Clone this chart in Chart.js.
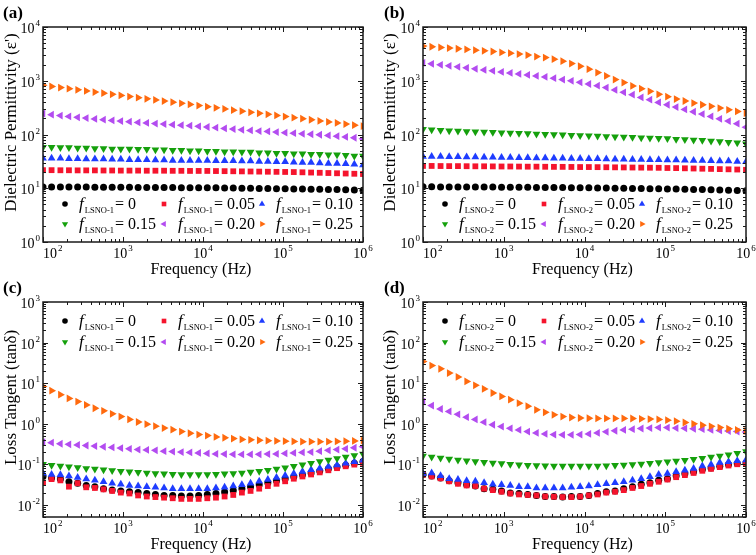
<!DOCTYPE html>
<html>
<head>
<meta charset="utf-8">
<script src="https://cdn.jsdelivr.net/npm/chart.js@4.4.1/dist/chart.umd.min.js"></script>
<style>
  body { margin: 0; background: #fff; }
  #wrap { position: relative; width: 756px; height: 555px; overflow: hidden; }
  #wrap canvas { position: absolute; }
</style>
</head>
<body>
<div id="wrap">
  <canvas id="chartA" width="378" height="278" style="left:0;top:0"></canvas>
  <canvas id="chartB" width="378" height="278" style="left:378px;top:0"></canvas>
  <canvas id="chartC" width="378" height="277" style="left:0;top:278px"></canvas>
  <canvas id="chartD" width="378" height="277" style="left:378px;top:278px"></canvas>
</div>
<script>
'use strict';

// measured frequencies (Hz), same for every sample
const freq = [100, 128, 165, 211, 271, 347, 445, 571, 732, 939,
  1205, 1545, 1982, 2542, 3261, 4182, 5365, 6881, 8826, 11320,
  14520, 18620, 23890, 30640, 39300, 50410, 64660, 82930, 106400, 136400,
  175000, 224400, 287900, 369200, 473600, 607500, 779200, 1000000];

const fractions = ['0', '0.05', '0.10', '0.15', '0.20', '0.25'];

// tick labels are powers of ten
const xTickExp = [2, 3, 4, 5, 6];
const epsTickExp = [0, 1, 2, 3, 4];
const tanTickExp = [-2, -1, 0, 1, 2, 3];

// (a) dielectric permittivity, LSNO-1
const eps1_f000 = [10.6, 10.6, 10.5, 10.5, 10.5, 10.5, 10.4, 10.4, 10.4, 10.4, 10.4, 10.3, 10.3, 10.3, 10.3, 10.3, 10.2, 10.2, 10.2, 10.2, 10.2, 10.1, 10.1, 10.0, 10.0, 9.9, 9.9, 9.8, 9.8, 9.7, 9.7, 9.6, 9.6, 9.5, 9.5, 9.4, 9.3, 9.2];
const eps1_f005 = [21.7, 21.7, 21.6, 21.6, 21.5, 21.5, 21.5, 21.4, 21.4, 21.3, 21.3, 21.3, 21.2, 21.2, 21.2, 21.1, 21.1, 21.0, 21.0, 21.0, 20.9, 20.8, 20.7, 20.6, 20.5, 20.4, 20.3, 20.2, 20.1, 20.0, 19.8, 19.6, 19.4, 19.2, 19.0, 18.8, 18.6, 18.4];
const eps1_f010 = [36, 36, 36, 35.5, 35.5, 35, 35, 35, 34.5, 34.5, 34, 34, 34, 33.5, 33.5, 33, 33, 33, 33, 33, 32.5, 32.5, 32.5, 32, 32, 31.5, 31.5, 31, 31, 30.5, 30, 30, 29.5, 29, 29, 28.5, 28, 27];
const eps1_f015 = [58, 58, 57, 57, 56, 56, 55, 55, 54, 54, 54, 53, 53, 52, 52, 51, 51, 50, 50, 49, 49, 48, 48, 47, 47, 46, 46, 45, 45, 44, 44, 43, 43, 42, 42, 41, 40, 40];
const eps1_f020 = [244, 234, 225, 217, 209, 202, 195, 189, 183, 178, 173, 168, 164, 160, 156, 152, 149, 146, 142, 138, 134, 130, 126, 122, 119, 116, 114, 111, 108, 106, 103, 101, 99, 96, 93, 90, 87, 83];
const eps1_f025 = [824, 785, 748, 713, 679, 647, 617, 587, 560, 533, 508, 484, 461, 440, 419, 399, 380, 362, 345, 329, 313, 299, 284, 272, 259, 248, 237, 226, 216, 206, 197, 188, 179, 171, 164, 156, 149, 143];

// (b) dielectric permittivity, LSNO-2
const eps2_f000 = [10.7, 10.7, 10.6, 10.6, 10.6, 10.5, 10.5, 10.5, 10.5, 10.4, 10.4, 10.4, 10.4, 10.3, 10.3, 10.3, 10.3, 10.2, 10.2, 10.2, 10.1, 10.1, 10.0, 10.0, 9.9, 9.9, 9.8, 9.8, 9.7, 9.7, 9.6, 9.5, 9.5, 9.4, 9.3, 9.2, 9.1, 9.0];
const eps2_f005 = [26.0, 26.0, 25.9, 25.8, 25.8, 25.7, 25.6, 25.6, 25.5, 25.4, 25.4, 25.3, 25.2, 25.2, 25.1, 25.0, 25.0, 24.9, 24.8, 24.8, 24.7, 24.6, 24.5, 24.4, 24.3, 24.2, 24.1, 24.0, 23.8, 23.7, 23.5, 23.3, 23.1, 22.9, 22.7, 22.5, 22.3, 22.0];
const eps2_f010 = [39, 39, 38.8, 38.6, 38.4, 38.2, 38, 37.8, 37.6, 37.4, 37.2, 37, 36.8, 36.6, 36.4, 36.2, 36, 35.8, 35.6, 35.4, 35.2, 35, 34.8, 34.6, 34.4, 34.2, 34, 33.8, 33.6, 33.4, 33.2, 33, 32.8, 32.6, 32.3, 32, 31.6, 31];
const eps2_f015 = [125, 122, 120, 118, 116, 114, 113, 111, 110, 108, 107, 105, 104, 102, 101, 100, 99, 97, 96, 95, 94, 92, 91, 90, 89, 87, 86, 85, 84, 82, 81, 79, 78, 76, 74, 72, 70, 67];
const eps2_f020 = [2150, 2065, 1980, 1895, 1815, 1740, 1665, 1590, 1530, 1460, 1400, 1340, 1285, 1230, 1180, 1115, 1050, 995, 935, 870, 810, 745, 675, 610, 550, 490, 445, 395, 358, 324, 293, 265, 240, 217, 196, 178, 159, 137];
const eps2_f025 = [4415, 4290, 4170, 4050, 3935, 3820, 3710, 3600, 3500, 3360, 3265, 3130, 3000, 2820, 2700, 2520, 2310, 2090, 1860, 1640, 1420, 1230, 1050, 925, 800, 712, 635, 560, 506, 457, 420, 385, 358, 334, 310, 288, 269, 250];

// (c) loss tangent, LSNO-1
const tan1_f000 = [0.050, 0.046, 0.043, 0.037, 0.034, 0.030, 0.028, 0.025, 0.023, 0.022, 0.021, 0.020, 0.019, 0.018, 0.017, 0.017, 0.0165, 0.0165, 0.017, 0.018, 0.019, 0.0207, 0.0224, 0.025, 0.028, 0.031, 0.035, 0.039, 0.044, 0.049, 0.055, 0.061, 0.068, 0.077, 0.086, 0.095, 0.106, 0.117];
const tan1_f005 = [0.035, 0.043, 0.040, 0.028, 0.034, 0.027, 0.026, 0.024, 0.022, 0.020, 0.019, 0.017, 0.016, 0.0155, 0.015, 0.0145, 0.014, 0.014, 0.014, 0.0145, 0.015, 0.016, 0.0175, 0.020, 0.022, 0.025, 0.029, 0.033, 0.038, 0.044, 0.050, 0.056, 0.063, 0.071, 0.080, 0.089, 0.098, 0.108];
const tan1_f010 = [0.060, 0.056, 0.055, 0.051, 0.047, 0.043, 0.040, 0.037, 0.034, 0.032, 0.030, 0.029, 0.028, 0.027, 0.026, 0.025, 0.025, 0.025, 0.025, 0.025, 0.026, 0.027, 0.029, 0.031, 0.034, 0.038, 0.042, 0.047, 0.053, 0.059, 0.066, 0.073, 0.080, 0.088, 0.096, 0.105, 0.115, 0.126];
const tan1_f015 = [0.100, 0.095, 0.091, 0.087, 0.083, 0.079, 0.076, 0.073, 0.070, 0.067, 0.065, 0.063, 0.061, 0.059, 0.058, 0.057, 0.056, 0.056, 0.056, 0.056, 0.057, 0.058, 0.059, 0.061, 0.064, 0.067, 0.071, 0.076, 0.082, 0.089, 0.097, 0.106, 0.116, 0.127, 0.139, 0.151, 0.165, 0.180];
const tan1_f020 = [0.35, 0.34, 0.32, 0.31, 0.30, 0.29, 0.28, 0.27, 0.26, 0.25, 0.24, 0.23, 0.225, 0.22, 0.21, 0.205, 0.20, 0.195, 0.19, 0.185, 0.18, 0.178, 0.176, 0.175, 0.175, 0.176, 0.178, 0.18, 0.185, 0.19, 0.195, 0.20, 0.21, 0.22, 0.23, 0.24, 0.255, 0.27];
const tan1_f025 = [8.3, 6.5, 5.2, 4.2, 3.5, 2.9, 2.4, 2.07, 1.75, 1.5, 1.27, 1.1, 0.97, 0.87, 0.78, 0.71, 0.64, 0.58, 0.54, 0.51, 0.47, 0.45, 0.43, 0.41, 0.40, 0.39, 0.38, 0.375, 0.37, 0.365, 0.36, 0.36, 0.36, 0.36, 0.365, 0.37, 0.375, 0.38];

// (d) loss tangent, LSNO-2
const tan2_f000 = [0.056, 0.051, 0.046, 0.039, 0.035, 0.031, 0.029, 0.025, 0.024, 0.022, 0.0196, 0.019, 0.018, 0.017, 0.016, 0.016, 0.0155, 0.016, 0.016, 0.017, 0.019, 0.021, 0.022, 0.025, 0.028, 0.032, 0.035, 0.040, 0.044, 0.052, 0.058, 0.065, 0.074, 0.081, 0.089, 0.098, 0.104, 0.108];
const tan2_f005 = [0.055, 0.050, 0.045, 0.038, 0.033, 0.030, 0.029, 0.025, 0.023, 0.021, 0.019, 0.018, 0.0175, 0.017, 0.016, 0.0158, 0.0155, 0.0155, 0.016, 0.017, 0.018, 0.020, 0.021, 0.023, 0.026, 0.029, 0.033, 0.037, 0.042, 0.048, 0.054, 0.061, 0.069, 0.077, 0.085, 0.093, 0.100, 0.105];
const tan2_f010 = [0.059, 0.061, 0.052, 0.044, 0.042, 0.039, 0.038, 0.035, 0.032, 0.031, 0.030, 0.028, 0.028, 0.026, 0.026, 0.026, 0.026, 0.027, 0.028, 0.029, 0.031, 0.033, 0.035, 0.037, 0.040, 0.044, 0.049, 0.056, 0.059, 0.065, 0.071, 0.078, 0.090, 0.098, 0.110, 0.115, 0.122, 0.128];
const tan2_f015 = [0.160, 0.150, 0.142, 0.135, 0.128, 0.122, 0.117, 0.112, 0.108, 0.104, 0.100, 0.097, 0.095, 0.093, 0.092, 0.091, 0.090, 0.090, 0.090, 0.090, 0.091, 0.092, 0.094, 0.096, 0.099, 0.102, 0.106, 0.110, 0.115, 0.120, 0.126, 0.133, 0.141, 0.150, 0.160, 0.172, 0.186, 0.205];
const tan2_f020 = [3.5, 2.8, 2.3, 2.0, 1.7, 1.45, 1.27, 1.09, 0.94, 0.85, 0.77, 0.70, 0.64, 0.59, 0.56, 0.54, 0.53, 0.53, 0.54, 0.56, 0.59, 0.63, 0.67, 0.70, 0.73, 0.76, 0.78, 0.80, 0.80, 0.78, 0.77, 0.75, 0.73, 0.70, 0.68, 0.66, 0.64, 0.62];
const tan2_f025 = [34, 27, 22.5, 17.7, 14.2, 11, 8.8, 7.2, 5.7, 4.7, 3.9, 3.2, 2.7, 2.2, 1.9, 1.65, 1.5, 1.42, 1.38, 1.36, 1.35, 1.35, 1.35, 1.35, 1.34, 1.32, 1.3, 1.27, 1.22, 1.15, 1.07, 0.99, 0.92, 0.86, 0.8, 0.75, 0.7, 0.66];

const SERIF = '"Liberation Serif", "Times New Roman", serif';

// one marker per volume fraction
const markers = [
  { color: '#000000', style: 'circle', rot: 0, r: 3.5 },
  { color: '#f5142d', style: 'rect', rot: 0, r: 4.1 },
  { color: '#1e3cff', style: 'triangle', rot: 0, r: 4.5 },
  { color: '#15a00c', style: 'triangle', rot: 180, r: 4.5 },
  { color: '#b34cf0', style: 'triangle', rot: 270, r: 4.5 },
  { color: '#ff6a0e', style: 'triangle', rot: 90, r: 4.5 }
];

const panels = [
  { canvas: 'chartA', tag: '(a)', sub: 'LSNO-1', yTitle: 'Dielectric Permittivity (\u03b5\')',
    yMin: 1, yMax: 1e4, yExp: epsTickExp, legendTop: false, tagX: 3, titleX: 12,
    pad: { left: 43, right: 15, top: 27, bottom: 36 },
    series: [eps1_f000, eps1_f005, eps1_f010, eps1_f015, eps1_f020, eps1_f025] },
  { canvas: 'chartB', tag: '(b)', sub: 'LSNO-2', yTitle: 'Dielectric Permittivity (\u03b5\')',
    yMin: 1, yMax: 1e4, yExp: epsTickExp, legendTop: false, tagX: 6, titleX: 13,
    pad: { left: 45, right: 10, top: 27, bottom: 36 },
    series: [eps2_f000, eps2_f005, eps2_f010, eps2_f015, eps2_f020, eps2_f025] },
  { canvas: 'chartC', tag: '(c)', sub: 'LSNO-1', yTitle: 'Loss Tangent (tan\u03b4)',
    yMin: 0.005, yMax: 1e3, yExp: tanTickExp, legendTop: true, tagX: 3, titleX: 12,
    pad: { left: 43, right: 15, top: 24, bottom: 38 },
    series: [tan1_f000, tan1_f005, tan1_f010, tan1_f015, tan1_f020, tan1_f025] },
  { canvas: 'chartD', tag: '(d)', sub: 'LSNO-2', yTitle: 'Loss Tangent (tan\u03b4)',
    yMin: 0.005, yMax: 1e3, yExp: tanTickExp, legendTop: true, tagX: 6, titleX: 13,
    pad: { left: 45, right: 10, top: 24, bottom: 38 },
    series: [tan2_f000, tan2_f005, tan2_f010, tan2_f015, tan2_f020, tan2_f025] }
];

// "10" with a raised exponent
function powLabel(ctx, exp, x, y, align) {
  ctx.font = '14px ' + SERIF;
  const wb = ctx.measureText('10').width;
  ctx.font = '9px ' + SERIF;
  const ws = ctx.measureText(String(exp)).width;
  let x0 = x;
  if (align === 'right') x0 = x - wb - ws - 1;
  if (align === 'center') x0 = x - (wb + ws + 1) / 2;
  ctx.textAlign = 'left';
  ctx.textBaseline = 'alphabetic';
  ctx.font = '14px ' + SERIF;
  ctx.fillText('10', x0, y);
  ctx.font = '9px ' + SERIF;
  ctx.fillText(String(exp), x0 + wb + 1, y - 7);
}

function legendMarker(ctx, m, x, y) {
  ctx.fillStyle = m.color;
  if (Chart.helpers && Chart.helpers.drawPoint) {
    Chart.helpers.drawPoint(ctx, { pointStyle: m.style, radius: m.r * 0.8, rotation: m.rot, borderWidth: 0 }, x, y);
  } else {
    ctx.beginPath();
    ctx.arc(x, y, m.r * 0.8, 0, Math.PI * 2);
    ctx.fill();
  }
}

// box, inward ticks, labels, titles and legend
const framePlugin = {
  id: 'frame',
  afterDatasetsDraw(chart, args, opts) {
    const p = opts.panel;
    const ctx = chart.ctx;
    const a = chart.chartArea;
    const xs = chart.scales.x;
    const ys = chart.scales.y;
    ctx.save();
    ctx.strokeStyle = '#1a1a1a';
    ctx.fillStyle = '#000';

    // x ticks, top and bottom
    ctx.lineWidth = 1;
    ctx.beginPath();
    for (let e = xTickExp[0]; e <= xTickExp[xTickExp.length - 1]; e++) {
      for (let m = 1; m <= 9; m++) {
        const v = m * Math.pow(10, e);
        if (v > xs.max * 1.0001) break;
        const px = Math.round(xs.getPixelForValue(v)) + 0.5;
        const len = m === 1 ? 5 : 3;
        ctx.moveTo(px, a.bottom); ctx.lineTo(px, a.bottom - len);
        ctx.moveTo(px, a.top); ctx.lineTo(px, a.top + len);
      }
    }
    // y ticks, left and right
    for (let e = p.yExp[0] - 1; e <= p.yExp[p.yExp.length - 1]; e++) {
      for (let m = 1; m <= 9; m++) {
        const v = m * Math.pow(10, e);
        if (v < p.yMin * 0.9999 || v > p.yMax * 1.0001) continue;
        const py = Math.round(ys.getPixelForValue(v)) + 0.5;
        const len = m === 1 ? 5 : 3;
        ctx.moveTo(a.left, py); ctx.lineTo(a.left + len, py);
        ctx.moveTo(a.right, py); ctx.lineTo(a.right - len, py);
      }
    }
    ctx.stroke();

    ctx.lineWidth = 1.5;
    ctx.strokeRect(a.left, a.top, a.right - a.left, a.bottom - a.top);

    // tick labels
    xTickExp.forEach((e, i) => {
      const px = xs.getPixelForValue(Math.pow(10, e));
      powLabel(ctx, e, px, a.bottom + 16, i === 0 ? 'left' : 'center');
    });
    p.yExp.forEach(e => {
      const py = ys.getPixelForValue(Math.pow(10, e));
      powLabel(ctx, e, a.left - 3, py + 6, 'right');
    });

    // axis titles
    ctx.font = '16px ' + SERIF;
    ctx.textAlign = 'center';
    ctx.textBaseline = 'alphabetic';
    ctx.fillText('Frequency (Hz)', (a.left + a.right) / 2 - 2, a.bottom + 32);
    ctx.save();
    ctx.translate(p.titleX, (a.top + a.bottom) / 2 - 12);
    ctx.rotate(-Math.PI / 2);
    ctx.textBaseline = 'middle';
    ctx.font = '17px ' + SERIF;
    ctx.fillText(p.yTitle, 0, 0);
    ctx.restore();

    // panel tag
    ctx.font = 'bold 17px ' + SERIF;
    ctx.textAlign = 'left';
    ctx.fillText(p.tag, p.tagX, a.top - 9);

    // legend, 3 columns x 2 rows
    const colX = [22, 121, 219];
    const rowY = p.legendTop ? [a.top + 19, a.top + 40] : [a.bottom - 38, a.bottom - 18];
    fractions.forEach((f, i) => {
      const mx = a.left + colX[i % 3];
      const my = rowY[Math.floor(i / 3)];
      legendMarker(ctx, markers[i], mx, my);
      let tx = mx + 14;
      ctx.fillStyle = '#000';
      ctx.textAlign = 'left';
      ctx.font = 'italic 17px ' + SERIF;
      ctx.fillText('f', tx, my + 5);
      tx += ctx.measureText('f').width + 1;
      ctx.font = '8.5px ' + SERIF;
      ctx.fillText(p.sub, tx, my + 9);
      tx += ctx.measureText(p.sub).width + 1;
      ctx.font = '16px ' + SERIF;
      ctx.fillText('= ' + f, tx, my + 5);
    });
    ctx.restore();
  }
};

function renderPanel(p) {
  const ctx = document.getElementById(p.canvas).getContext('2d');
  const datasets = p.series.map((vals, i) => ({
    label: p.sub + ' = ' + fractions[i],
    data: vals.map((v, k) => ({ x: freq[k], y: v })),
    showLine: false,
    pointStyle: markers[i].style,
    pointRotation: markers[i].rot,
    pointRadius: markers[i].r,
    pointBorderWidth: 0,
    pointBackgroundColor: markers[i].color,
    borderColor: markers[i].color,
    clip: 0,
    order: 5 - i
  }));

  new Chart(ctx, {
    type: 'scatter',
    data: { datasets: datasets },
    options: {
      responsive: false,
      animation: false,
      layout: { padding: p.pad },
      plugins: {
        legend: { display: false },
        tooltip: { enabled: false },
        frame: { panel: p }
      },
      scales: {
        x: { type: 'logarithmic', min: 100, max: 1e6, display: false },
        y: { type: 'logarithmic', min: p.yMin, max: p.yMax, display: false }
      }
    },
    plugins: [framePlugin]
  });
}

panels.forEach(renderPanel);
</script>
</body>
</html>
